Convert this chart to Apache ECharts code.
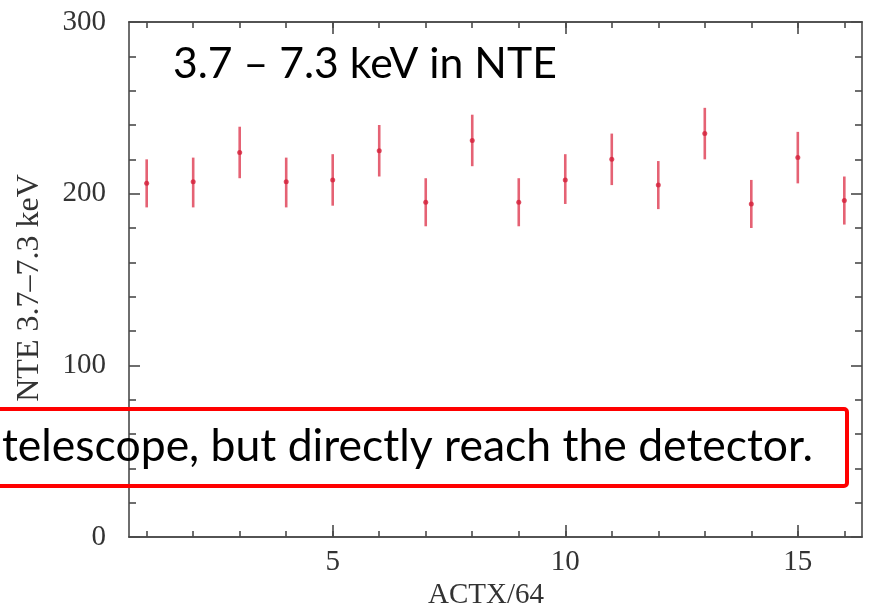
<!DOCTYPE html>
<html>
<head>
<meta charset="utf-8">
<script src="https://cdn.jsdelivr.net/npm/echarts@6/dist/echarts.min.js"></script>
<style>html,body{margin:0;padding:0;background:#fff}#c{width:870px;height:610px}</style>
</head>
<body>
<div id="c"></div>
<script>
// ---- data ----
const actx = [1, 2, 3, 4, 5, 6, 7, 8, 9, 10, 11, 12, 13, 14, 15, 16];
const counts = [206, 207, 224, 207, 208, 225, 195, 231, 195, 208, 220, 205, 235, 194, 221, 196];
const lowErr = [192, 192, 209, 192, 193, 210, 181, 216, 181, 194, 205, 191, 220, 180, 206, 182];
const highErr = [220, 221, 239, 221, 223, 240, 209, 246, 209, 223, 235, 219, 250, 208, 236, 210];
const xMajorTicks = [5, 10, 15];
const xMinorTicks = [1, 2, 3, 4, 5, 6, 7, 8, 9, 10, 11, 12, 13, 14, 15, 16];
const yTickLabels = [0, 100, 200, 300];
const xTitle = 'ACTX/64';
const yTitle = 'NTE 3.7–7.3 keV';
const bandNote = '3.7 – 7.3 keV in NTE';
const boxNote = 'telescope, but directly reach the detector.';

const axisColor = '#4a4a4a';
const serif = '"Liberation Serif", "DejaVu Serif", serif';
const sans = 'Lato, "Open Sans", sans-serif';

const chart = echarts.init(document.getElementById('c'));

function xAxisDef(pos, ticks, len, labels) {
  return {
    type: 'value', position: pos, min: 0.62, max: 16.38,
    axisLine: { show: true, onZero: false, lineStyle: { color: axisColor, width: 1.6 } },
    axisTick: { show: true, inside: true, length: len, customValues: ticks, lineStyle: { color: axisColor, width: 1.6 } },
    axisLabel: labels ? { show: true, customValues: ticks, margin: 11, fontFamily: serif, fontSize: 29, color: '#333' } : { show: false },
    splitLine: { show: false }
  };
}
function yAxisDef(pos, labels) {
  return {
    type: 'value', position: pos, min: 0, max: 300, interval: 100,
    axisLine: { show: true, onZero: false, lineStyle: { color: axisColor, width: 1.6 } },
    axisTick: { show: true, inside: true, length: 11, lineStyle: { color: axisColor, width: 1.6 } },
    minorTick: { show: true, splitNumber: 5, length: 7, lineStyle: { color: axisColor, width: 1.6 } },
    axisLabel: labels ? { show: true, margin: 23, fontFamily: serif, fontSize: 29, color: '#333',
      formatter: v => yTickLabels.indexOf(v) >= 0 ? String(v) : '' } : { show: false },
    splitLine: { show: false }
  };
}

const errData = actx.map((x, i) => [x, lowErr[i], highErr[i]]);
const ptData = actx.map((x, i) => [x, counts[i]]);

chart.setOption({
  animation: false,
  grid: { left: 129, right: 8, top: 22, bottom: 73, containLabel: false },
  xAxis: [
    xAxisDef('bottom', xMajorTicks, 12, true),
    xAxisDef('bottom', xMinorTicks, 6, false),
    xAxisDef('top', xMajorTicks, 12, false),
    xAxisDef('top', xMinorTicks, 6, false)
  ],
  yAxis: [yAxisDef('left', true), yAxisDef('right', false)],
  series: [
    {
      type: 'custom', xAxisIndex: 0, yAxisIndex: 0, data: errData,
      encode: { x: 0, y: [1, 2] },
      renderItem: function (params, api) {
        const lo = api.coord([api.value(0), api.value(1)]);
        const hi = api.coord([api.value(0), api.value(2)]);
        return { type: 'line', shape: { x1: lo[0], y1: lo[1], x2: hi[0], y2: hi[1] },
          style: { stroke: '#e0475c', lineWidth: 2.6, opacity: 0.85 } };
      },
      z: 2
    },
    {
      type: 'scatter', xAxisIndex: 0, yAxisIndex: 0, data: ptData,
      symbol: 'circle', symbolSize: 5, itemStyle: { color: '#d41f3a' }, z: 3
    }
  ],
  graphic: [
    { type: 'text', left: 173, top: 43, style: { text: bandNote, fontFamily: sans, fontSize: 42.7, fill: '#000' }, z: 10 },
    { type: 'text', left: 2, top: 424, style: { text: boxNote, fontFamily: sans, fontSize: 44.5, fill: '#000' }, z: 10 },
    { type: 'rect', shape: { x: -20, y: 409, width: 867, height: 77, r: 3 },
      style: { fill: 'none', stroke: '#ff0000', lineWidth: 4 }, z: 11 },
    { type: 'text', left: 428, top: 581, style: { text: xTitle, fontFamily: serif, fontSize: 29, fill: '#333' }, z: 10 },
    { type: 'text', x: 30, y: 288, rotation: Math.PI / 2,
      style: { text: yTitle, fontFamily: serif, fontSize: 32, fill: '#333', align: 'center', verticalAlign: 'middle' }, z: 10 }
  ]
});
</script>
</body>
</html>
